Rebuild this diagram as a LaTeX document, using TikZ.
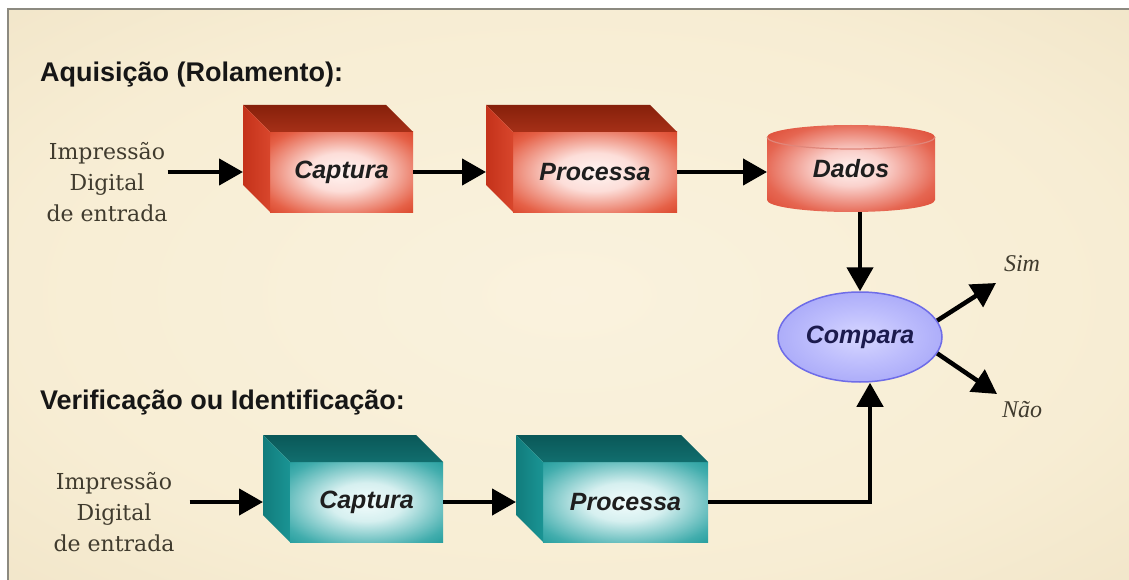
\documentclass[tikz,border=0pt]{standalone}
\usepackage{fontspec}
\setmainfont{DejaVu Serif}
\newfontfamily\labelfont{Liberation Sans}
\newfontfamily\notefont{Liberation Serif}
\usetikzlibrary{arrows.meta,calc,backgrounds,shapes.geometric}

\definecolor{inkgray}{HTML}{403B2E}
\definecolor{headink}{HTML}{161616}
\definecolor{boxink}{HTML}{1E1E1E}
\definecolor{framegray}{HTML}{8C8A80}
\definecolor{comparaline}{HTML}{6E6CE8}
\definecolor{comparaink}{HTML}{1C1B4E}
\definecolor{cylrimcol}{HTML}{E0867A}
\definecolor{redtopback}{HTML}{86200A}
\definecolor{redtopfront}{HTML}{A63018}
\definecolor{redsideback}{HTML}{C4321A}
\definecolor{redsidefront}{HTML}{D8462C}
\definecolor{tealtopback}{HTML}{0A5858}
\definecolor{tealtopfront}{HTML}{116E6E}
\definecolor{tealsideback}{HTML}{117C7C}
\definecolor{tealsidefront}{HTML}{1A9494}

% soft glows for the faces
\pgfdeclareradialshading{paper}{\pgfpoint{0bp}{0bp}}{rgb(0bp)=(0.98,0.95,0.87); rgb(25bp)=(0.97,0.93,0.83); rgb(45bp)=(0.93,0.88,0.76); rgb(60bp)=(0.89,0.83,0.68); rgb(71bp)=(0.85,0.79,0.63)}
\pgfdeclareradialshading{redglow}{\pgfpoint{0bp}{0bp}}{rgb(0bp)=(1,0.96,0.95); rgb(12bp)=(0.99,0.87,0.85); rgb(30bp)=(0.90,0.38,0.28); rgb(38bp)=(0.84,0.25,0.14); rgb(50bp)=(0.83,0.23,0.13); rgb(71bp)=(0.80,0.21,0.12)}
\pgfdeclareradialshading{cylglow}{\pgfpoint{0bp}{0bp}}{rgb(0bp)=(1,0.95,0.94); rgb(10bp)=(0.98,0.82,0.80); rgb(26bp)=(0.90,0.40,0.32); rgb(36bp)=(0.86,0.27,0.18); rgb(50bp)=(0.84,0.24,0.15); rgb(71bp)=(0.80,0.21,0.12)}
\pgfdeclareradialshading{tealglow}{\pgfpoint{0bp}{0bp}}{rgb(0bp)=(0.95,0.99,0.99); rgb(12bp)=(0.84,0.94,0.94); rgb(30bp)=(0.26,0.68,0.68); rgb(38bp)=(0.11,0.60,0.60); rgb(50bp)=(0.10,0.58,0.58); rgb(71bp)=(0.09,0.55,0.55)}
\pgfdeclareradialshading{bluglow}{\pgfpoint{0bp}{0bp}}{rgb(0bp)=(0.84,0.84,1); rgb(15bp)=(0.74,0.74,0.99); rgb(38bp)=(0.60,0.60,0.96); rgb(50bp)=(0.54,0.54,0.94)}

% top and left faces of a box whose front face is node #1
\newcommand\boxsides[5]{%
  \shade[top color=#2,bottom color=#3] (#1.north west) -- ++(-27,-27)
    -- ([shift={(-27,-27)}]#1.north east) -- (#1.north east) -- cycle;
  \shade[left color=#4,right color=#5] (#1.north west) -- ++(-27,-27)
    -- ([shift={(-27,-27)}]#1.south west) -- (#1.south west) -- cycle;
}

\begin{document}
\begin{tikzpicture}[x=1pt,y=-1pt,
  heading/.style={font=\labelfont\bfseries\fontsize{27}{32}\selectfont, text=headink, inner sep=0pt, anchor=west},
  sourcetext/.style={font=\fontsize{22}{31}\selectfont, text=inkgray, align=center, inner sep=0pt},
  facebox/.style={rectangle, inner sep=0pt, outer sep=0pt, minimum height=80pt, font=\labelfont\bfseries\itshape\fontsize{25}{30}\selectfont, text=boxink},
  redbox/.style={facebox, shade, shading=redglow},
  tealbox/.style={facebox, shade, shading=tealglow},
  arr/.style={line width=4.5pt, -{Triangle[length=24pt,width=26pt]}},
  answer/.style={font=\notefont\itshape\fontsize{24}{28}\selectfont, text=inkgray, inner sep=0pt}
]
\useasboundingbox (0,0) rectangle (1129,580);

\begin{scope}[on background layer]
  \fill[white] (0,0) rectangle (1129,580);
  \shade[shading=paper] (9,10) rectangle (1129,580);
  \draw[framegray, line width=2.5pt] (8,580) -- (8,9) -- (1129,9);
\end{scope}

% headings
\node[heading] (h1) at (40,75) {Aquisição (Rolamento):};
\node[heading] (h2) at (40,403) {Verificação ou Identificação:};

% inputs
\node[sourcetext] (in1) at (107,182) {Impressão\\Digital\\de entrada};
\node[sourcetext] (in2) at (114,512) {Impressão\\Digital\\de entrada};

% enrolment row
\node[redbox, minimum width=143pt] (cap1) at (341.5,172) {Captura};
\node[redbox, minimum width=164pt] (pro1) at (595,172) {Processa};
\boxsides{cap1}{redtopback}{redtopfront}{redsideback}{redsidefront}
\boxsides{pro1}{redtopback}{redtopfront}{redsideback}{redsidefront}

\node[rectangle, minimum width=168pt, minimum height=87pt, inner sep=0pt, outer sep=0pt,
      font=\labelfont\bfseries\itshape\fontsize{25}{30}\selectfont, text=boxink]
      (dados) at (851,168.5) {\raisebox{-5pt}{Dados}};
\begin{scope}[on background layer]
  \path[shade, shading=cylglow] ($(dados.west)+(0,-31.5)$)
    arc[start angle=180,end angle=360,x radius=84,y radius=12]
    -- ($(dados.east)+(0,31.5)$)
    arc[start angle=0,end angle=180,x radius=84,y radius=12] -- cycle;
  \draw[cylrimcol, line width=1.2pt] ($(dados.west)+(0,-31.5)$)
    arc[start angle=180,end angle=0,x radius=84,y radius=12];
\end{scope}

% verification row
\node[tealbox, minimum width=153pt] (cap2) at (366.5,502) {Captura};
\node[tealbox, minimum width=165pt] (pro2) at (625.5,502) {Processa};
\boxsides{cap2}{tealtopback}{tealtopfront}{tealsideback}{tealsidefront}
\boxsides{pro2}{tealtopback}{tealtopfront}{tealsideback}{tealsidefront}

% comparison
\node[ellipse, minimum width=164pt, minimum height=90pt, inner sep=0pt, shade, shading=bluglow,
      draw=comparaline, line width=1.5pt,
      font=\labelfont\bfseries\itshape\fontsize{25}{30}\selectfont, text=comparaink]
      (comp) at (860,337) {Compara};

\node[answer] (sim) at (1022,264) {Sim};
\node[answer] (nao) at (1022,410) {Não};
\coordinate (simend) at (996,283);
\coordinate (naoend) at (997,394);

% entry points on the left faces
\coordinate (cap1in) at ($(cap1.west)+(-27,0)$);
\coordinate (pro1in) at ($(pro1.west)+(-27,0)$);
\coordinate (cap2in) at ($(cap2.west)+(-27,0)$);
\coordinate (pro2in) at ($(pro2.west)+(-27,0)$);

% connectors
\draw[arr] (in1.east |- cap1.center) -- (cap1in);
\draw[arr] (cap1.east) -- (pro1in);
\draw[arr] (pro1.east) -- (pro1.east -| dados.west);
\draw[arr] (dados.south -| comp.north) -- (comp.north);
\draw[arr, shorten <=15pt] (in2.east |- cap2.center) -- (cap2in);
\draw[arr] (cap2.east) -- (pro2in);
\draw[arr] (pro2.east) -| ([xshift=10pt]comp.south);
\draw[arr] (comp.12) -- (simend);
\draw[arr] (comp.-12) -- (naoend);
\end{tikzpicture}
\end{document}
